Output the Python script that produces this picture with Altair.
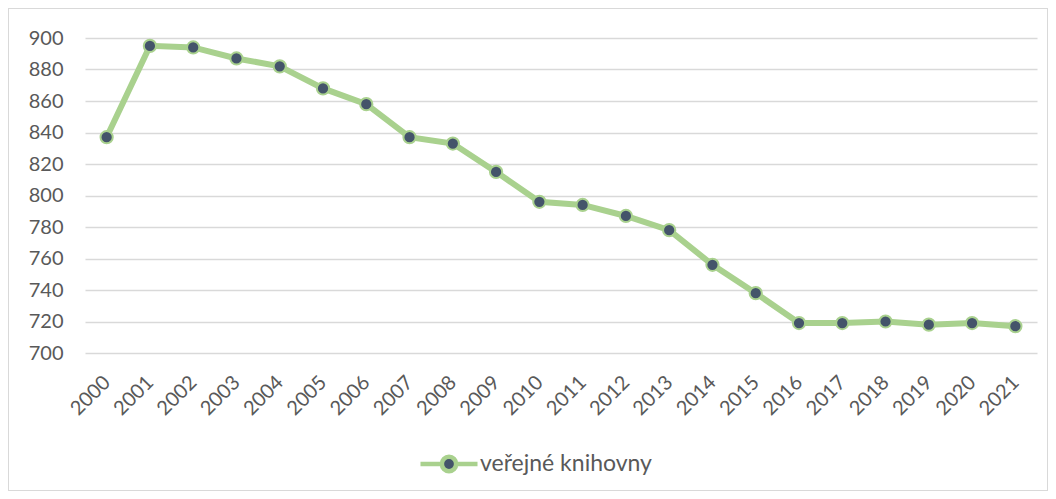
import altair as alt
import pandas as pd

years = [str(y) for y in range(2000, 2022)]
values = [837, 895, 894, 887, 882, 868, 858, 837, 833, 815, 796, 794, 787, 778, 756, 738, 719, 719, 720, 718, 719, 717]
series = "veřejné knihovny"

df = pd.DataFrame({"rok": years, "pocet": values, "serie": series})

W, H = 952, 315
GREEN = "#A9D18E"
DARK = "#44546A"
TXT = "#595959"
FONT = "Lato"

legend_path = ("M -1 0 L -0.25 0 M 0.25 0 L 1 0 "
               "M -0.25 0 A 0.25 0.25 0 1 0 0.25 0 A 0.25 0.25 0 1 0 -0.25 0 Z")

base = alt.Chart(df).encode(
    x=alt.X("rok:N", sort=None, title=None,
            scale=alt.Scale(paddingInner=0, paddingOuter=0),
            axis=alt.Axis(labelAngle=-45, labelAlign="right", labelBaseline="middle",
                          labelPadding=26, ticks=False, domain=False, grid=False,
                          labelFontSize=20, labelColor=TXT, labelFont=FONT)),
    y=alt.Y("pocet:Q", title=None,
            scale=alt.Scale(domain=[700, 900], nice=False, zero=False),
            axis=alt.Axis(values=list(range(700, 901, 20)), ticks=False, domain=False,
                          grid=True, gridColor="#D9D9D9", gridWidth=1.5,
                          labelFontSize=20, labelColor=TXT, labelFont=FONT,
                          labelPadding=22)),
)

line = base.mark_line(strokeWidth=6, strokeCap="round").encode(
    color=alt.Color("serie:N", scale=alt.Scale(range=[GREEN]), title=None,
                    legend=alt.Legend(orient="none", legendX=333, legendY=395,
                                      symbolType=legend_path, symbolSize=3250,
                                      symbolStrokeWidth=4.5, symbolFillColor=DARK,
                                      symbolStrokeColor=GREEN, labelFontSize=23,
                                      labelColor=TXT, labelFont=FONT,
                                      labelOffset=0, labelLimit=400))
)
points = base.mark_point(filled=True, size=150, fill=DARK, stroke=GREEN,
                         strokeWidth=2, opacity=1)

frame = alt.Chart(df).mark_rect(fill=None, stroke="#D9D9D9", strokeWidth=1).encode(
    x=alt.value(-76.5), x2=alt.value(962.5), y=alt.value(-29.5), y2=alt.value(452.5)
)

chart = alt.layer(frame, line, points).properties(
    width=W, height=H,
    background="white",
    autosize=alt.AutoSizeParams(type="none"),
    padding={"left": 77, "top": 30, "right": 11, "bottom": 138},
).configure_view(stroke=None)

chart.save("out.html", embed_options={"renderer": "svg", "actions": False})
